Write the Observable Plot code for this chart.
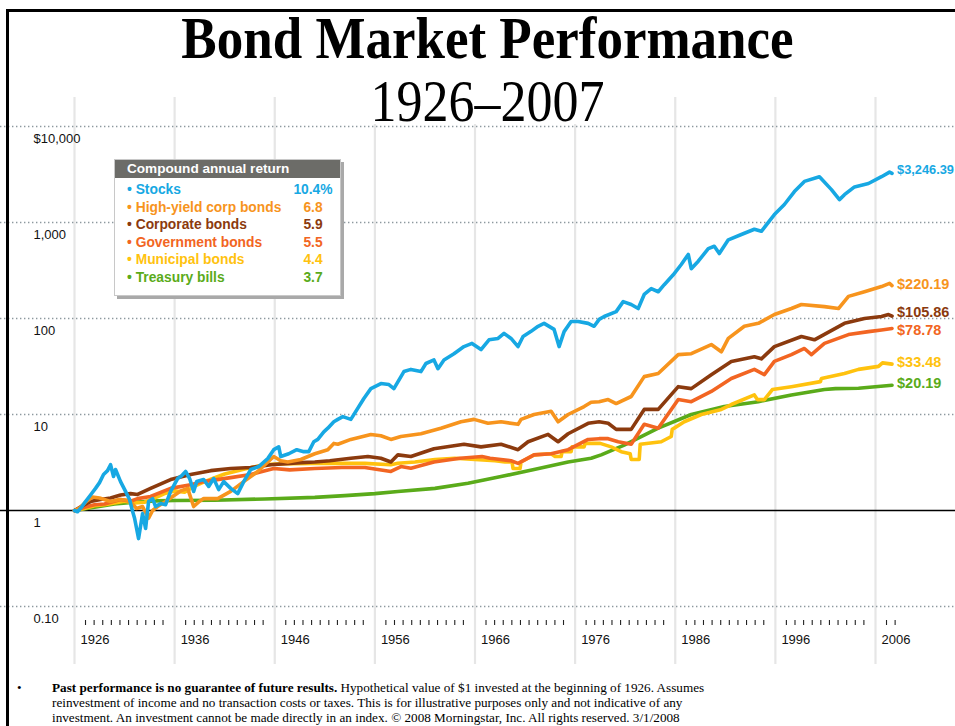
<!DOCTYPE html>
<html><head><meta charset="utf-8">
<script src="https://cdn.jsdelivr.net/npm/d3@7"></script>
<script src="https://cdn.jsdelivr.net/npm/@observablehq/plot@0.6"></script>
<style>
body{margin:0;background:#fff;}
#page{position:relative;width:955px;height:726px;overflow:hidden;background:#fff;font-family:"Liberation Sans",Arial,sans-serif;}
#chart{position:absolute;left:0;top:0;}
.title{position:absolute;left:0;width:975px;text-align:center;font-family:"Liberation Serif","Times New Roman",serif;color:#000;white-space:nowrap;}
#t1{top:14px;font-size:53px;line-height:53px;font-weight:bold;transform:scaleY(1.12);transform-origin:50% 44px;}
#t2{top:78px;font-size:52px;line-height:52px;transform:scaleY(1.12);transform-origin:50% 44px;}
#mask{position:absolute;left:366px;top:92px;width:244px;height:32px;background:#fff;}
#bTop{position:absolute;left:6px;top:9px;width:949px;height:3px;background:#000;}
#bLeft{position:absolute;left:6px;top:9px;width:3px;height:717px;background:#000;}
#legend{position:absolute;left:114px;top:159px;width:227px;height:137px;background:#fff;border:1px solid #c8c8c8;box-shadow:3px 3px 0 #a9a9a9;box-sizing:border-box;}
#legend .hd{height:18px;background:#6c6c68;color:#fff;font-size:13.6px;line-height:18px;padding-left:12px;font-weight:bold;}
#legend .row{position:absolute;left:0;width:100%;height:17px;font-size:13.8px;font-weight:bold;line-height:17px;}
#legend .lab{position:absolute;left:12px;white-space:nowrap;}
#legend .val{position:absolute;left:168px;width:60px;text-align:center;font-size:13.8px;}
#foot{position:absolute;left:52px;top:680px;font-family:"Liberation Serif","Times New Roman",serif;font-size:13.2px;line-height:15px;color:#000;white-space:nowrap;}
#bullet{position:absolute;left:17px;top:680px;font-family:"Liberation Serif",serif;font-size:13px;line-height:15px;}
</style></head><body>
<div id="page">
<div id="chart"></div>
<div id="mask"></div>
<div id="t1" class="title">Bond Market Performance</div>
<div id="t2" class="title">1926–2007</div>
<div id="bTop"></div><div id="bLeft"></div>
<div id="legend"><div class="hd">Compound annual return</div></div>
<div id="bullet">•</div>
<div id="foot"><b>Past performance is no guarantee of future results.</b> Hypothetical value of $1 invested at the beginning of 1926. Assumes<br>reinvestment of income and no transaction costs or taxes. This is for illustrative purposes only and not indicative of any<br>investment. An investment cannot be made directly in an index. © 2008 Morningstar, Inc. All rights reserved. 3/1/2008</div>
</div>
<script>
// ---- data ----
const seriesNames = ["Stocks","High-yield corp bonds","Corporate bonds","Government bonds","Municipal bonds","Treasury bills"];
const seriesReturns = ["10.4%","6.8","5.9","5.5","4.4","3.7"];
const seriesEndLabels = ["$3,246.39","$220.19","$105.86","$78.78","$33.48","$20.19"];
const seriesColors = ["#17a8e3","#f7941d","#8b3a0e","#f26522","#ffc20e","#5aab1a"];

const xTicks = [1926,1936,1946,1956,1966,1976,1986,1996,2006];
const xTickLabels = ["1926","1936","1946","1956","1966","1976","1986","1996","2006"];
const yTicks = [10000,1000,100,10,1,0.1];
const yTickLabels = ["$10,000","1,000","100","10","1","0.10"];

const stocks = [[1926.0,1.0],[1926.3,0.97],[1926.7,1.08],[1927.1,1.24],[1927.6,1.45],[1928.1,1.7],[1928.5,1.95],[1928.9,2.37],[1929.3,2.6],[1929.6,3.0],[1929.9,2.26],[1930.1,2.67],[1930.6,2.0],[1931.1,1.58],[1931.5,1.3],[1931.8,0.98],[1932.0,0.83],[1932.4,0.51],[1932.8,0.93],[1933.1,0.65],[1933.4,1.24],[1933.8,1.33],[1934.1,1.1],[1934.6,1.18],[1935.1,1.15],[1935.6,1.58],[1936.3,2.15],[1936.7,2.3],[1937.1,2.55],[1937.5,2.15],[1937.9,1.58],[1938.2,2.0],[1938.9,2.1],[1939.4,1.78],[1939.9,2.15],[1940.4,1.65],[1940.9,2.0],[1941.6,1.7],[1942.3,1.5],[1942.9,2.0],[1943.6,2.67],[1944.4,2.87],[1945.3,3.47],[1945.9,4.3],[1946.4,4.6],[1946.6,3.65],[1947.4,3.9],[1948.2,4.3],[1948.9,4.1],[1949.4,4.1],[1949.9,5.2],[1950.3,5.5],[1950.9,6.6],[1951.3,7.2],[1951.9,8.4],[1952.3,8.9],[1952.8,9.5],[1953.6,8.9],[1954.9,14.7],[1955.6,18.6],[1956.6,21],[1957.4,20.5],[1957.9,18.6],[1958.9,28],[1959.6,29.5],[1960.6,28],[1961.1,34],[1961.9,37],[1962.3,30],[1962.9,37],[1963.9,43],[1964.9,51],[1965.7,55],[1966.6,47.5],[1967.4,60],[1968.3,62],[1968.9,70],[1969.6,62],[1970.3,51],[1970.8,65],[1971.6,73.5],[1972.3,83],[1972.9,89],[1973.9,77],[1974.4,51],[1974.9,73],[1975.6,93],[1976.3,93],[1977.3,89],[1977.9,83],[1978.4,98],[1978.9,105],[1980.1,118],[1980.8,150],[1981.6,140],[1982.3,127],[1982.9,178],[1983.6,205],[1984.3,190],[1984.9,225],[1985.8,285],[1986.6,365],[1987.3,465],[1987.6,330],[1988.3,395],[1989.3,535],[1989.9,565],[1990.4,475],[1991.3,660],[1992.6,750],[1993.9,850],[1994.6,810],[1995.9,1210],[1996.9,1540],[1997.9,2100],[1998.9,2680],[2000.4,3000],[2001.6,2200],[2002.4,1730],[2002.9,1950],[2003.9,2350],[2005.3,2550],[2006.6,3000],[2007.4,3350],[2007.65,3246.39]];

const highYield = [[1926.0,1.0],[1926.5,1.06],[1927.2,1.25],[1927.8,1.38],[1928.5,1.35],[1929.6,1.24],[1930.5,1.3],[1931.3,1.28],[1931.7,1.2],[1932.2,1.05],[1932.8,1.1],[1933.4,0.83],[1933.8,1.0],[1934.3,1.1],[1935.1,1.24],[1935.8,1.4],[1936.6,1.6],[1937.3,1.7],[1937.9,1.1],[1938.5,1.25],[1938.9,1.33],[1940.3,1.33],[1941.6,1.58],[1942.9,2.0],[1944.3,2.55],[1945.9,3.65],[1946.6,3.3],[1947.3,3.2],[1948.6,3.4],[1950.0,3.9],[1951.3,4.3],[1951.9,5.0],[1952.3,4.9],[1953.6,5.5],[1955.6,6.2],[1956.6,6.0],[1957.6,5.5],[1958.6,5.9],[1960.6,6.3],[1962.6,7.2],[1964.6,8.4],[1965.9,8.9],[1967.3,8.1],[1968.6,8.4],[1970.3,7.9],[1970.6,8.9],[1971.9,10],[1973.6,10.8],[1974.3,8.4],[1975.3,10],[1976.9,12.1],[1977.6,13.4],[1978.4,13.6],[1979.3,14.3],[1980.1,13],[1981.6,15.4],[1982.9,24.8],[1984.3,26.7],[1986.3,42],[1987.6,43],[1989.6,53.5],[1990.6,45],[1991.3,62],[1992.9,83],[1994.3,89],[1995.9,110],[1997.6,127],[1998.6,140],[2000.9,133],[2002.3,127],[2003.3,170],[2004.9,190],[2006.6,215],[2007.4,232],[2007.65,220.19]];

const corporate = [[1926.0,1.0],[1927.0,1.15],[1927.6,1.24],[1928.6,1.3],[1929.6,1.35],[1930.6,1.45],[1931.6,1.5],[1932.3,1.47],[1933.6,1.7],[1935.6,2.1],[1937.6,2.37],[1939.6,2.6],[1941.6,2.74],[1943.6,2.8],[1945.6,3.0],[1948.6,3.15],[1950.0,3.2],[1951.5,3.3],[1953.6,3.5],[1955.3,3.65],[1956.6,3.5],[1957.6,3.2],[1958.3,3.8],[1959.6,3.65],[1961.9,4.4],[1964.9,4.9],[1966.6,4.6],[1968.6,4.9],[1970.3,4.3],[1971.3,5.2],[1973.3,6.2],[1974.3,5.2],[1975.3,6.3],[1977.3,8.1],[1978.4,8.4],[1979.3,8.1],[1980.1,7.0],[1981.6,7.0],[1982.9,11.3],[1984.3,11.3],[1986.3,19.5],[1987.6,18.6],[1989.6,26],[1991.6,35.7],[1993.9,40],[1994.6,38],[1995.9,51],[1998.6,65],[1999.9,60],[2002.9,89],[2004.9,100],[2006.6,105],[2007.3,110],[2007.65,105.86]];

const government = [[1926.0,1.0],[1927.0,1.08],[1928.0,1.15],[1929.0,1.17],[1930.6,1.3],[1931.6,1.25],[1932.3,1.33],[1933.6,1.4],[1935.6,1.7],[1937.6,1.85],[1938.9,2.0],[1941.6,2.2],[1943.6,2.37],[1945.9,2.74],[1947.5,2.65],[1950.0,2.74],[1952.7,2.8],[1955.0,2.8],[1957.6,2.55],[1958.6,2.87],[1959.6,2.75],[1961.9,3.2],[1964.5,3.5],[1966.7,3.65],[1967.5,3.5],[1969.6,3.3],[1970.3,3.1],[1971.9,3.8],[1973.6,3.9],[1975.3,4.3],[1977.3,5.5],[1978.4,5.6],[1979.3,5.6],[1980.3,5.2],[1981.6,4.9],[1982.9,7.9],[1984.3,7.2],[1986.3,14.3],[1987.6,13.6],[1989.6,17.4],[1991.6,23.7],[1993.9,29.5],[1994.9,26],[1995.9,35.7],[1997.6,42],[1998.9,48.7],[1999.6,42],[2000.9,55],[2003.3,68],[2005.3,73],[2006.6,76],[2007.65,78.78]];

const municipal = [[1926.0,1.0],[1927.0,1.05],[1928.0,1.12],[1929.0,1.15],[1930.0,1.2],[1931.0,1.25],[1932.0,1.2],[1933.0,1.22],[1934.0,1.35],[1935.0,1.5],[1936.0,1.6],[1937.0,1.55],[1938.0,1.8],[1939.0,2.0],[1940.0,2.2],[1941.0,2.4],[1942.0,2.55],[1943.0,2.7],[1944.0,2.85],[1945.0,3.0],[1946.0,3.05],[1950.0,3.1],[1955.0,3.1],[1957.6,3.0],[1958.3,3.1],[1960.0,3.2],[1962.0,3.4],[1964.0,3.5],[1966.0,3.4],[1968.0,3.3],[1969.0,3.2],[1969.7,3.2],[1969.8,2.74],[1970.5,2.74],[1970.6,3.2],[1971.9,3.8],[1973.6,3.9],[1974.0,3.65],[1974.6,3.65],[1974.7,4.1],[1975.6,4.1],[1975.7,4.6],[1976.9,4.6],[1977.0,5.0],[1978.5,5.0],[1979.6,4.6],[1980.6,4.1],[1981.5,3.9],[1981.6,3.4],[1982.4,3.4],[1982.5,4.9],[1984.6,5.2],[1985.6,5.9],[1985.7,7.0],[1986.9,8.4],[1988.6,10],[1990.6,11.3],[1991.6,12.7],[1993.9,16],[1994.2,14.3],[1994.9,14.3],[1995.7,18.2],[1997.6,19.5],[2000.5,22],[2000.6,23.7],[2002.9,26.7],[2004.3,29.5],[2006.3,31.7],[2006.7,34.5],[2007.65,33.48]];

const treasury = [[1926.0,1.0],[1928.0,1.08],[1930.0,1.17],[1932.0,1.22],[1934.0,1.26],[1936.0,1.27],[1940.0,1.28],[1945.0,1.32],[1950.0,1.37],[1953.0,1.43],[1956.0,1.5],[1958.3,1.58],[1962.0,1.7],[1965.3,1.92],[1968.6,2.26],[1971.9,2.67],[1975.3,3.2],[1977.6,3.5],[1978.6,3.8],[1980.9,4.8],[1984.3,7.2],[1987.6,10],[1990.9,12.1],[1994.3,13.6],[1997.6,16],[2000.9,18.2],[2002.0,18.6],[2004.3,18.8],[2007.65,20.19]];

const seriesData = [stocks, highYield, corporate, government, municipal, treasury];

// ---- legend (HTML) ----
const legend = document.getElementById("legend");
seriesNames.forEach((n, i) => {
  const row = document.createElement("div");
  row.className = "row";
  row.style.top = (21 + i * 17.5) + "px";
  row.style.color = seriesColors[i];
  row.innerHTML = `<span class="lab">• ${n}</span><span class="val">${seriesReturns[i]}</span>`;
  legend.appendChild(row);
});

// ---- chart ----
const labelFont = [12.8, 14.5, 14.5, 14.5, 14.5, 14.5];
const labelDy = [-7.5, -5.5, -8.5, -2.5, -6.5, -6.5]; // px nudges for end labels
const ends = seriesData.map((s, i) => ({x: s[s.length-1][0], y: s[s.length-1][1], label: seriesEndLabels[i], color: seriesColors[i]}));
const yearTicks = [];
xTicks.forEach(d => { const n = d === 2006 ? 2 : 10; for (let k = 0; k < n; k++) yearTicks.push(d + 1.1 + 0.86 * k); });

const lineMarks = [];
for (let i = seriesData.length - 1; i >= 0; i--) {
  lineMarks.push(Plot.line(seriesData[i], {x: d => d[0], y: d => d[1], stroke: seriesColors[i], strokeWidth: 3.6, strokeLinejoin: "round", strokeLinecap: "round"}));
}

const chart = Plot.plot({
  width: 955, height: 672,
  marginTop: 0, marginBottom: 0, marginLeft: 0, marginRight: 0,
  style: {fontFamily: "'Liberation Sans', Arial, sans-serif", fontSize: "13px", background: "transparent", overflow: "visible"},
  x: {domain: [1926, 2006], range: [74, 875], axis: null},
  y: {type: "log", domain: [0.1, 10000], range: [606, 126], axis: null},
  marks: [
    Plot.ruleX(xTicks, {stroke: "#e6e6e6", strokeWidth: 2.2, insetTop: 97, insetBottom: 8}),
    Plot.ruleY(yTicks.filter(d => d !== 1), {stroke: "#8d989e", strokeWidth: 1.4, strokeDasharray: "1.4,2.6"}),
    Plot.ruleY([1], {stroke: "#000", strokeWidth: 1.4}),
    Plot.ruleX(yearTicks, {stroke: "#222", strokeWidth: 1.1, insetTop: 620, insetBottom: 47}),
    Plot.text(yTicks, {y: d => d, text: (d, i) => yTickLabels[i], frameAnchor: "left", dx: 33, dy: 12, textAnchor: "start", fill: "#111", fontSize: 13}),
    Plot.text(xTicks, {x: d => d, text: (d, i) => xTickLabels[i], frameAnchor: "bottom", dy: -29, dx: 6, textAnchor: "start", fill: "#111", fontSize: 13}),
    ...lineMarks,
    Plot.text(ends, {x: "x", y: "y", text: "label", fill: "color", dx: 5, textAnchor: "start", fontWeight: "bold", fontSize: 14.5})
  ]
});
document.getElementById("chart").appendChild(chart);
// apply per-label size and vertical nudges
d3.select(chart).selectAll("text").filter(function(){ return seriesEndLabels.includes(this.textContent); })
  .attr("font-size", function(){ return labelFont[seriesEndLabels.indexOf(this.textContent)]; })
  .attr("dy", function(){ const i = seriesEndLabels.indexOf(this.textContent); return (labelDy[i] / labelFont[i] + 0.32) + "em"; });
</script>
</body></html>
